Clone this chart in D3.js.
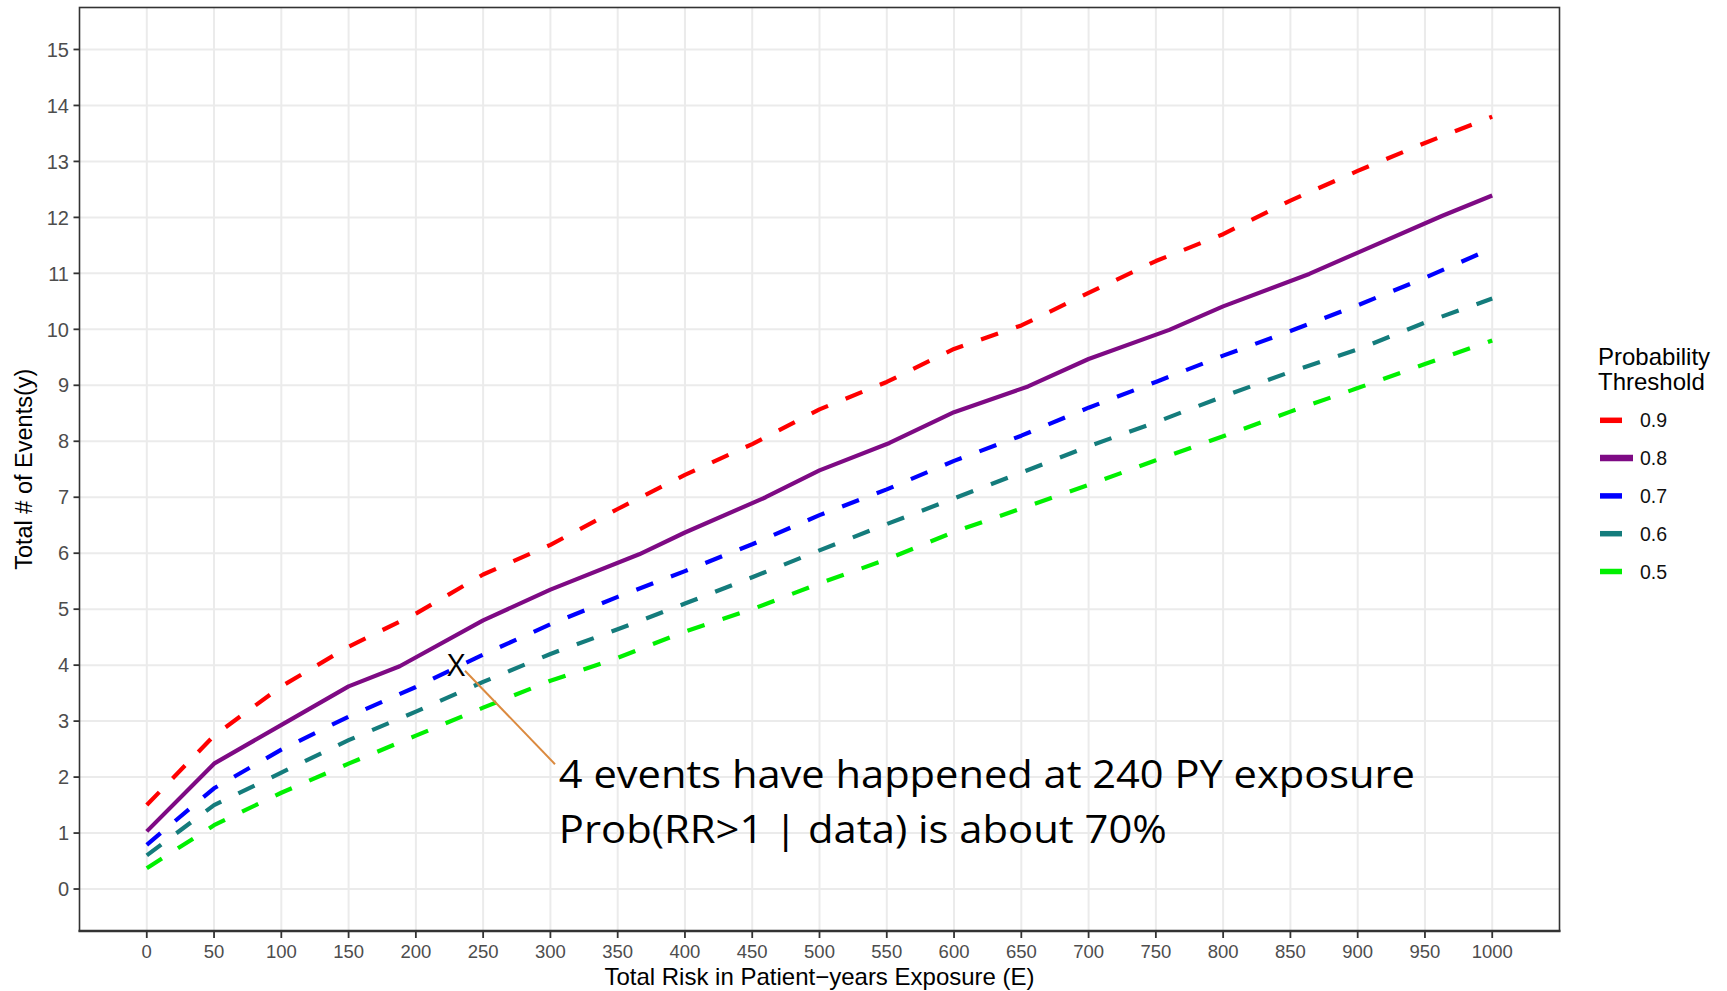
<!DOCTYPE html>
<html>
<head>
<meta charset="utf-8">
<script src="https://cdn.jsdelivr.net/npm/d3@7/dist/d3.min.js"></script>
<style>
  body { margin: 0; background: #fff; }
  text { font-family: "Liberation Sans", Arial, sans-serif; }
</style>
</head>
<body>
<script>
// exposure grid (patient-years) shared by the dashed curves
var exposure = [0, 50, 100, 150, 200, 250, 300, 350, 400, 450, 500,
                550, 600, 650, 700, 750, 800, 850, 900, 950, 1000];
var prob90 = [1.50, 2.74, 3.62, 4.33, 4.92, 5.62, 6.15, 6.79, 7.40, 7.95, 8.57,
              9.06, 9.65, 10.07, 10.65, 11.22, 11.70, 12.30, 12.83, 13.33, 13.80];
var prob70 = [0.79, 1.80, 2.49, 3.08, 3.61, 4.19, 4.73, 5.22, 5.68, 6.16, 6.68,
              7.14, 7.65, 8.10, 8.60, 9.06, 9.53, 9.97, 10.43, 10.92, 11.45];
var prob60 = [0.60, 1.50, 2.08, 2.66, 3.17, 3.70, 4.20, 4.64, 5.10, 5.57, 6.05,
              6.52, 6.98, 7.44, 7.91, 8.34, 8.80, 9.24, 9.64, 10.12, 10.55];
var prob50 = [0.37, 1.14, 1.72, 2.24, 2.74, 3.24, 3.72, 4.13, 4.60, 5.00, 5.46,
              5.89, 6.38, 6.80, 7.22, 7.66, 8.09, 8.53, 8.95, 9.38, 9.80];
// the 0.8 curve has its own break points
var prob80Exposure = [0, 50, 105, 150, 188, 250, 300, 366, 400, 460, 500,
                      552, 600, 655, 700, 760, 800, 864, 901, 963, 1000];
var prob80 = [1.03, 2.24, 3.00, 3.62, 3.98, 4.80, 5.35, 5.98, 6.37, 7.00, 7.48,
              7.97, 8.52, 8.98, 9.47, 9.99, 10.41, 10.99, 11.38, 12.03, 12.39];

var thresholds = ["0.9", "0.8", "0.7", "0.6", "0.5"];
var xTicks = [0, 50, 100, 150, 200, 250, 300, 350, 400, 450, 500,
              550, 600, 650, 700, 750, 800, 850, 900, 950, 1000];
var yTicks = [0, 1, 2, 3, 4, 5, 6, 7, 8, 9, 10, 11, 12, 13, 14, 15];

// annotation (data coordinates)
var markPoint = [230, 4];
var leader = [[236.5, 3.9], [303.4, 2.23]];
var noteLines = ["4 events have happened at 240 PY exposure",
                 "Prob(RR>1 | data) is about 70%"];

var width = 1727;
var height = 991;
var panel = {left: 79.5, right: 1559.5, top: 7.5, bottom: 931};

var series = [
    {name: "0.9", x: exposure, y: prob90, color: "#FF0000", dash: "18,19", w: 4.2},
    {name: "0.8", x: prob80Exposure, y: prob80, color: "#7E0A84", dash: null, w: 4.2},
    {name: "0.7", x: exposure, y: prob70, color: "#0000FF", dash: "18,19", w: 4.2},
    {name: "0.6", x: exposure, y: prob60, color: "#147C7C", dash: "18,19", w: 4.2},
    {name: "0.5", x: exposure, y: prob50, color: "#00F000", dash: "18,19", w: 4.2}
];

var x = d3.scaleLinear().domain([-50, 1050]).range([panel.left, panel.right]);
var y = d3.scaleLinear().domain([-0.75, 15.75]).range([panel.bottom, panel.top]);

var svg = d3.select("body").append("svg")
    .attr("width", width)
    .attr("height", height);

svg.append("rect")
    .attr("width", width)
    .attr("height", height)
    .style("fill", "#fff");

/*
 * GRID
 */
var grid = svg.append("g").classed("grid", true);
grid.selectAll("line.vx")
        .data(xTicks)
    .enter().append("line")
        .attr("x1", function(d){ return x(d); })
        .attr("x2", function(d){ return x(d); })
        .attr("y1", panel.top)
        .attr("y2", panel.bottom)
        .style("stroke", "#EBEBEB")
        .style("stroke-width", 2);
grid.selectAll("line.hy")
        .data(yTicks)
    .enter().append("line")
        .attr("x1", panel.left)
        .attr("x2", panel.right)
        .attr("y1", function(d){ return y(d); })
        .attr("y2", function(d){ return y(d); })
        .style("stroke", "#EBEBEB")
        .style("stroke-width", 2);

/*
 * LINES
 */
var line = d3.line()
    .x(function(d){ return x(d[0]); })
    .y(function(d){ return y(d[1]); });

svg.append("g").selectAll("path")
        .data(series)
    .enter().append("path")
        .attr("d", function(s){ return line(d3.zip(s.x, s.y)); })
        .style("fill", "none")
        .style("stroke", function(s){ return s.color; })
        .style("stroke-width", function(s){ return s.w; })
        .style("stroke-dasharray", function(s){ return s.dash; })
        .style("stroke-linejoin", "round");

/*
 * PANEL BORDER + AXES
 */
svg.append("rect")
    .attr("x", panel.left)
    .attr("y", panel.top)
    .attr("width", panel.right - panel.left)
    .attr("height", panel.bottom - panel.top)
    .style("fill", "none")
    .style("stroke", "#333")
    .style("stroke-width", 1.6);
svg.append("line")
    .attr("x1", panel.left - 1)
    .attr("x2", panel.right + 1)
    .attr("y1", panel.bottom)
    .attr("y2", panel.bottom)
    .style("stroke", "#333")
    .style("stroke-width", 2.6);

var xAxis = svg.append("g");
xAxis.selectAll("line")
        .data(xTicks)
    .enter().append("line")
        .attr("x1", function(d){ return x(d); })
        .attr("x2", function(d){ return x(d); })
        .attr("y1", panel.bottom)
        .attr("y2", panel.bottom + 7)
        .style("stroke", "#333")
        .style("stroke-width", 1.8);
xAxis.selectAll("text")
        .data(xTicks)
    .enter().append("text")
        .attr("x", function(d){ return x(d); })
        .attr("y", 958)
        .text(function(d){ return d; })
        .style("font-size", "18.5px")
        .style("fill", "#4D4D4D")
        .style("text-anchor", "middle");

var yAxis = svg.append("g");
yAxis.selectAll("line")
        .data(yTicks)
    .enter().append("line")
        .attr("x1", panel.left - 6)
        .attr("x2", panel.left)
        .attr("y1", function(d){ return y(d); })
        .attr("y2", function(d){ return y(d); })
        .style("stroke", "#333")
        .style("stroke-width", 1.8);
yAxis.selectAll("text")
        .data(yTicks)
    .enter().append("text")
        .attr("x", 69)
        .attr("y", function(d){ return y(d); })
        .attr("dy", "0.36em")
        .text(function(d){ return d; })
        .style("font-size", "20px")
        .style("fill", "#4D4D4D")
        .style("text-anchor", "end");

svg.append("text")
    .attr("x", (panel.left + panel.right) / 2)
    .attr("y", 985)
    .text("Total Risk in Patient\u2212years Exposure (E)")
    .style("font-size", "24px")
    .style("fill", "#000")
    .style("text-anchor", "middle");

svg.append("text")
    .attr("transform", "translate(31.5," + ((panel.top + panel.bottom) / 2) + ") rotate(-90)")
    .text("Total # of Events(y)")
    .style("font-size", "23.5px")
    .style("fill", "#000")
    .style("text-anchor", "middle");

/*
 * LEGEND
 */
var legend = svg.append("g").attr("transform", "translate(1598,0)");
legend.append("text")
    .attr("x", 0).attr("y", 365)
    .text("Probability")
    .style("font-size", "24px");
legend.append("text")
    .attr("x", 0).attr("y", 390)
    .text("Threshold")
    .style("font-size", "24px");

var keys = legend.selectAll("g.key")
        .data(thresholds)
    .enter().append("g")
        .classed("key", true)
        .attr("transform", function(d, i){ return "translate(0," + (420.3 + i * 37.8) + ")"; });
keys.append("line")
    .attr("x1", 2)
    .attr("x2", 35)
    .attr("y1", 0)
    .attr("y2", 0)
    .style("stroke", function(d){ return series.filter(function(s){ return s.name === d; })[0].color; })
    .style("stroke-width", function(d){ return d === "0.8" ? 6.5 : 5.5; })
    .style("stroke-dasharray", function(d){ return d === "0.8" ? null : "22,22"; });
keys.append("text")
    .attr("x", 42)
    .attr("y", 0)
    .attr("dy", "0.36em")
    .text(function(d){ return d; })
    .style("font-size", "19.5px")
    .style("fill", "#111");

/*
 * ANNOTATION
 */
svg.append("line")
    .attr("x1", x(leader[0][0]))
    .attr("y1", y(leader[0][1]))
    .attr("x2", x(leader[1][0]))
    .attr("y2", y(leader[1][1]))
    .style("stroke", "#DB8A3F")
    .style("stroke-width", 2);

svg.append("text")
    .attr("x", x(markPoint[0]))
    .attr("y", y(markPoint[1]))
    .attr("dy", "0.36em")
    .text("X")
    .style("font-family", "'Open Sans', sans-serif")
    .style("font-size", "31px")
    .style("fill", "#000")
    .style("text-anchor", "middle");

var noteWidths = [856, 608];
svg.append("g").selectAll("text")
        .data(noteLines)
    .enter().append("text")
        .attr("x", x(306.3))
        .attr("y", function(d, i){ return y(i === 0 ? 1.8 : 0.82); })
        .attr("textLength", function(d, i){ return noteWidths[i]; })
        .attr("lengthAdjust", "spacingAndGlyphs")
        .text(function(d){ return d; })
        .style("font-family", "'Open Sans', sans-serif")
        .style("font-size", "38px")
        .style("fill", "#000");
</script>
</body>
</html>
